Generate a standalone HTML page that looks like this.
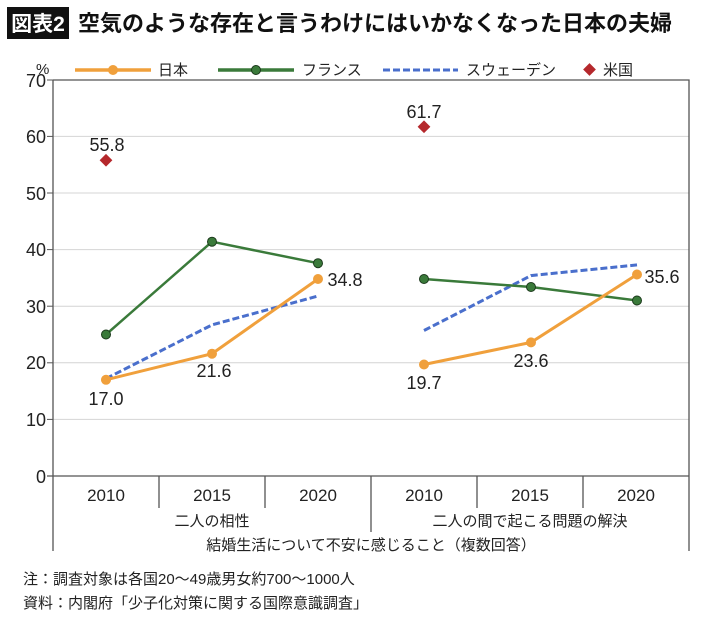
<!DOCTYPE html>
<html><head><meta charset="utf-8"><style>
body{margin:0;background:#fff;}
svg text{font-family:"Liberation Sans Narrow","Liberation Sans","Noto Sans CJK JP",sans-serif;fill:#222;}
</style></head><body>
<svg width="710" height="614" viewBox="0 0 710 614" xmlns="http://www.w3.org/2000/svg">
<rect x="7" y="7" width="62" height="32" fill="#111"/>
<text x="38" y="31" font-size="21" font-weight="bold" text-anchor="middle" style="fill:#fff">図表2</text>
<text x="78" y="31" font-size="22" font-weight="bold" style="fill:#111">空気のような存在と言うわけにはいかなくなった日本の夫婦</text>
<text x="36" y="74" font-size="15">%</text>
<line x1="75" y1="70" x2="151" y2="70" stroke="#f0a03c" stroke-width="3.5"/><circle cx="113" cy="70" r="5" fill="#f0a03c"/>
<text x="158" y="75" font-size="15">日本</text>
<line x1="218" y1="70" x2="294" y2="70" stroke="#3a7a3a" stroke-width="3.5"/><circle cx="256" cy="70" r="4.5" fill="#3a7a3a" stroke="#1c3a1c" stroke-width="1"/>
<text x="302" y="75" font-size="15">フランス</text>
<line x1="383" y1="70" x2="458" y2="70" stroke="#4a6fcc" stroke-width="3" stroke-dasharray="7,3"/>
<text x="466" y="75" font-size="15">スウェーデン</text>
<rect x="585" y="65" width="9" height="9" fill="#b5282c" transform="rotate(45 589.5 69.5)"/>
<text x="603" y="75" font-size="15">米国</text>
<g stroke="#d4d4d4" stroke-width="1">
<line x1="53" y1="419.4" x2="689" y2="419.4"/><line x1="53" y1="362.8" x2="689" y2="362.8"/>
<line x1="53" y1="306.2" x2="689" y2="306.2"/><line x1="53" y1="249.6" x2="689" y2="249.6"/>
<line x1="53" y1="193" x2="689" y2="193"/><line x1="53" y1="136.4" x2="689" y2="136.4"/>
</g>
<g stroke="#555" stroke-width="1.3" fill="none">
<polyline points="53,80 689,80 689,551"/>
<line x1="53" y1="80" x2="53" y2="551"/>
<line x1="47" y1="476" x2="689" y2="476"/>
<line x1="159" y1="476" x2="159" y2="508"/><line x1="265" y1="476" x2="265" y2="508"/>
<line x1="477" y1="476" x2="477" y2="508"/><line x1="583" y1="476" x2="583" y2="508"/>
<line x1="371" y1="476" x2="371" y2="532"/>
<g stroke-width="1"><line x1="47" y1="80" x2="53" y2="80"/><line x1="47" y1="136.4" x2="53" y2="136.4"/><line x1="47" y1="193" x2="53" y2="193"/><line x1="47" y1="249.6" x2="53" y2="249.6"/><line x1="47" y1="306.2" x2="53" y2="306.2"/><line x1="47" y1="362.8" x2="53" y2="362.8"/><line x1="47" y1="419.4" x2="53" y2="419.4"/></g>
</g>
<g font-size="18" text-anchor="end">
<text x="46" y="87">70</text><text x="46" y="143">60</text><text x="46" y="200">50</text><text x="46" y="256">40</text><text x="46" y="313">30</text><text x="46" y="369">20</text><text x="46" y="426">10</text><text x="46" y="483">0</text>
</g>
<g font-size="17" text-anchor="middle">
<text x="106" y="501">2010</text><text x="212" y="501">2015</text><text x="318" y="501">2020</text>
<text x="424" y="501">2010</text><text x="530" y="501">2015</text><text x="636" y="501">2020</text>
</g>
<g font-size="15" text-anchor="middle">
<text x="212" y="526">二人の相性</text><text x="530" y="526">二人の間で起こる問題の解決</text>
<text x="371" y="550">結婚生活について不安に感じること（複数回答）</text>
</g>
<polyline points="106,378.6 212,324.9 318,296" fill="none" stroke="#4a6fcc" stroke-width="3" stroke-dasharray="7,3"/>
<polyline points="106,334.5 212,241.7 318,263.2" fill="none" stroke="#3a7a3a" stroke-width="2.5"/>
<polyline points="106,379.8 212,353.7 318,279" fill="none" stroke="#f0a03c" stroke-width="3"/>
<polyline points="424,330.5 531,275.6 637,264.9" fill="none" stroke="#4a6fcc" stroke-width="3" stroke-dasharray="7,3"/>
<polyline points="424,279 531,287 637,300.5" fill="none" stroke="#3a7a3a" stroke-width="2.5"/>
<polyline points="424,364.5 531,342.4 637,274.5" fill="none" stroke="#f0a03c" stroke-width="3"/>
<g fill="#3a7a3a" stroke="#1c3a1c" stroke-width="1">
<circle cx="106" cy="334.5" r="4.5"/><circle cx="212" cy="241.7" r="4.5"/><circle cx="318" cy="263.2" r="4.5"/>
<circle cx="424" cy="279" r="4.5"/><circle cx="531" cy="287" r="4.5"/><circle cx="637" cy="300.5" r="4.5"/>
</g>
<g fill="#f0a03c">
<circle cx="106" cy="379.8" r="5"/><circle cx="212" cy="353.7" r="5"/><circle cx="318" cy="279" r="5"/>
<circle cx="424" cy="364.5" r="5"/><circle cx="531" cy="342.4" r="5"/><circle cx="637" cy="274.5" r="5"/>
</g>
<rect x="101.5" y="155.7" width="9" height="9" fill="#b5282c" transform="rotate(45 106 160.2)"/>
<rect x="419.5" y="122.3" width="9" height="9" fill="#b5282c" transform="rotate(45 424 126.8)"/>
<g font-size="18" text-anchor="middle">
<text x="107" y="151">55.8</text><text x="106" y="405">17.0</text><text x="214" y="377">21.6</text><text x="345" y="286">34.8</text>
<text x="424" y="118">61.7</text><text x="424" y="389">19.7</text><text x="531" y="367">23.6</text><text x="662" y="283">35.6</text>
</g>
<g font-size="15">
<text x="23" y="584">注：調査対象は各国20〜49歳男女約700〜1000人</text>
<text x="23" y="608">資料：内閣府「少子化対策に関する国際意識調査」</text>
</g>
</svg>
</body></html>
